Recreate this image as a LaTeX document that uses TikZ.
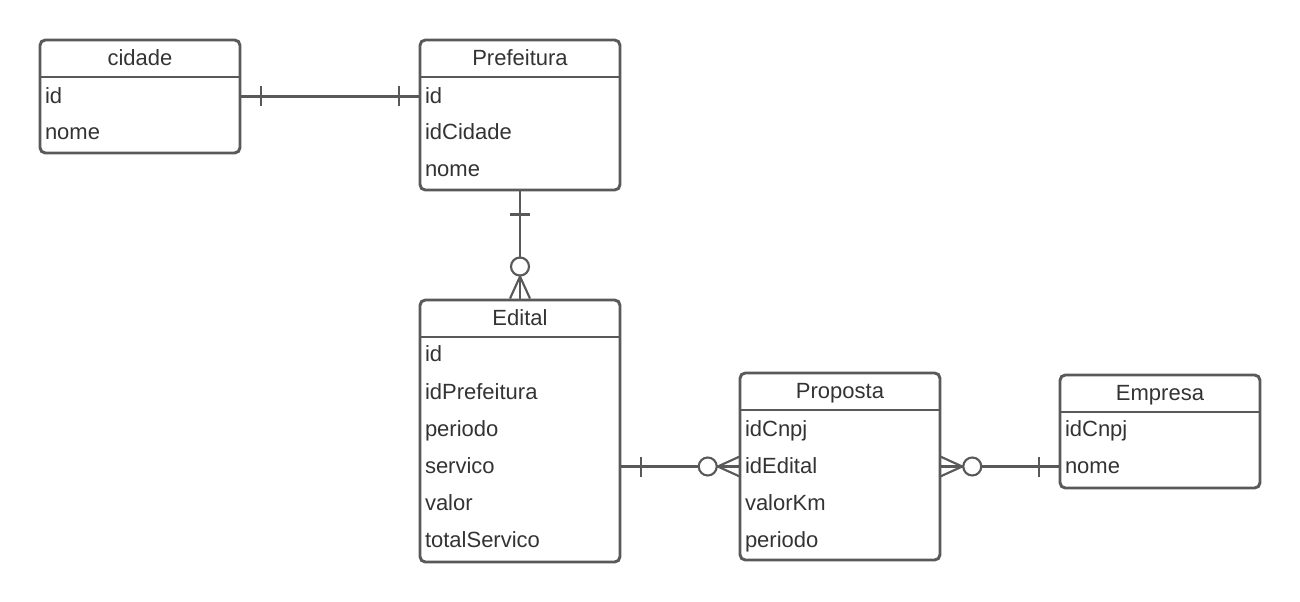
\documentclass[tikz,border=0pt]{standalone}
\usepackage{fontspec}
\setmainfont{Liberation Sans}
\usepackage{xcolor}
\usetikzlibrary{calc,positioning}

\definecolor{linha}{HTML}{595959}
\definecolor{texto}{HTML}{333333}

\begin{document}
\begin{tikzpicture}[x=0.75pt, y=-0.75pt,
                font=\fontsize{16.5}{19}\selectfont, text=texto]
        \tikzset{
                tabela/.style  = {draw=linha, line width=2.2pt, rounded corners=4pt,
                                minimum width=150pt, inner sep=0pt},
                titulo/.style  = {inner sep=0pt, text height=12.5pt, text depth=2pt},
                campo/.style   = {minimum width=150pt, minimum height=27.75pt, text width=142.5pt,
                                inner xsep=3.75pt, inner ysep=0pt, align=left,
                                text height=12.5pt, text depth=2pt},
                divisao/.style = {draw=linha, line width=2.2pt},
                liga/.style    = {draw=linha, line width=1.6pt},
                bola/.style    = {draw=linha, line width=1.6pt, fill=white}
        }
        \useasboundingbox (0,0) rectangle (1300,602);

        % the boxes of the tables
        \node[tabela, minimum height=84.75pt]  (cidade)     at (140,96.5)  {};
        \node[tabela, minimum height=112.5pt]  (prefeitura) at (520,115)   {};
        \node[tabela, minimum height=196.5pt]  (edital)     at (520,431)   {};
        \node[tabela, minimum height=140.25pt] (proposta)   at (840,466.5) {};
        \node[tabela, minimum height=84.75pt]  (empresa)    at (1160,431.5) {};

        % titles and the line under each title
        \node[titulo] (cidade-t)     at (140,58.5)  {cidade};
        \node[titulo] (prefeitura-t) at (520,58.5)  {Prefeitura};
        \node[titulo] (edital-t)     at (520,318.5) {Edital};
        \node[titulo] (proposta-t)   at (840,391.5) {Proposta};
        \node[titulo] (empresa-t)    at (1160,393.5) {Empresa};
        \draw[divisao] (40,77) -- (240,77);
        \draw[divisao] (420,77) -- (620,77);
        \draw[divisao] (420,337) -- (620,337);
        \draw[divisao] (740,410) -- (940,410);
        \draw[divisao] (1060,412) -- (1260,412);

        % the fields of every table
        \begin{scope}[every node/.style={campo}]
                % cidade
                \foreach \i/\y/\t in {1/96.5/id, 2/133/nome}
                        \node (cid\i) at (140,\y) {\t};
                % Prefeitura
                \foreach \i/\y/\t in {1/96.5/id, 2/133/idCidade, 3/170/nome}
                        \node (pre\i) at (520,\y) {\t};
                % Edital
                \foreach \i/\y/\t in {1/355/id, 2/392/idPrefeitura, 3/429.5/periodo,
                                4/466.5/servico, 5/503.5/valor, 6/540.5/totalServico}
                        \node (edi\i) at (520,\y) {\t};
                % Proposta
                \foreach \i/\y/\t in {1/429.5/idCnpj, 2/466.5/idEdital, 3/503.5/valorKm, 4/540.5/periodo}
                        \node (pro\i) at (840,\y) {\t};
                % Empresa
                \foreach \i/\y/\t in {1/429.5/idCnpj, 2/466.5/nome}
                        \node (emp\i) at (1160,\y) {\t};
        \end{scope}

        % cidade -- Prefeitura: one and only one on both sides
        \draw[liga] (cid1.east) -- (pre1.west);
        \draw[liga] ($(cid1.east)+(21,-10)$) -- ++(0,20);
        \draw[liga] ($(pre1.west)+(-21,-10)$) -- ++(0,20);

        % Prefeitura -- Edital: one to zero or many
        \draw[liga] (prefeitura.south) -- (edital.north);
        \draw[liga] ($(prefeitura.south)+(-10,23)$) -- ++(20,0);
        \draw[liga] ($(edital.north)+(-10,0)$) -- ($(edital.north)+(0,-22)$) -- ($(edital.north)+(10,0)$);
        \draw[bola] ($(edital.north)+(0,-32)$) circle (6.75pt);

        % Edital -- Proposta: one to zero or many
        \draw[liga] (edi4.east) -- (pro2.west);
        \draw[liga] ($(edi4.east)+(21,-10)$) -- ++(0,20);
        \draw[liga] ($(pro2.west)+(0,-10)$) -- ($(pro2.west)+(-22,0)$) -- ($(pro2.west)+(0,10)$);
        \draw[bola] ($(pro2.west)+(-32,0)$) circle (6.75pt);

        % Proposta -- Empresa: zero or many to one
        \draw[liga] (pro2.east) -- (emp2.west);
        \draw[liga] ($(pro2.east)+(0,-10)$) -- ($(pro2.east)+(22,0)$) -- ($(pro2.east)+(0,10)$);
        \draw[bola] ($(pro2.east)+(32,0)$) circle (6.75pt);
        \draw[liga] ($(emp2.west)+(-21,-10)$) -- ++(0,20);
\end{tikzpicture}
\end{document}
